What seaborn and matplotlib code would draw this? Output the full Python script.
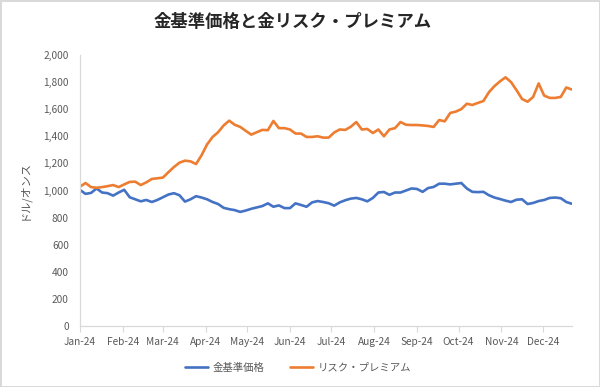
import matplotlib
matplotlib.use("Agg")
import matplotlib.pyplot as plt
import seaborn as sns
import pandas as pd
from matplotlib.lines import Line2D

# ---- data ----
dates = pd.date_range("2024-01-01", periods=90, freq="4D")

gold_base = [1004, 975, 982, 1015, 985, 980, 962, 985, 1005, 950,
             935, 920, 930, 915, 930, 950, 970, 980, 965, 918,
             935, 958, 948, 935, 915, 900, 872, 862, 855, 842,
             852, 865, 875, 885, 905, 880, 890, 870, 870, 905,
             893, 880, 912, 922, 915, 906, 888, 912, 928, 940,
             945, 935, 920, 945, 985, 989, 968, 985, 985, 1000,
             1015, 1011, 990, 1018, 1026, 1050, 1050, 1045, 1050, 1055,
             1015, 990, 988, 990, 965, 948, 937, 925, 915, 932,
             935, 900, 908, 922, 930, 945, 948, 943, 915, 902]

risk_premium = [1028, 1055, 1025, 1020, 1025, 1032, 1040, 1025, 1045, 1063,
                1065, 1040, 1060, 1085, 1090, 1095, 1135, 1173, 1205, 1220,
                1215, 1195, 1260, 1340, 1395, 1430, 1480, 1515, 1485, 1469,
                1440, 1412, 1430, 1447, 1445, 1513, 1460, 1460, 1450, 1420,
                1420, 1395, 1395, 1400, 1390, 1390, 1428, 1450, 1447, 1470,
                1505, 1450, 1454, 1424, 1450, 1400, 1450, 1460, 1505, 1485,
                1483, 1483, 1480, 1476, 1469, 1520, 1510, 1572, 1582, 1600,
                1640, 1631, 1646, 1660, 1725, 1770, 1805, 1835, 1800, 1740,
                1675, 1655, 1690, 1790, 1700, 1683, 1683, 1690, 1760, 1745]

series_names = ["金基準価格", "リスク・プレミアム"]
colors = ["#4472C4", "#ED7D31"]
yticks = [0, 200, 400, 600, 800, 1000, 1200, 1400, 1600, 1800, 2000]
month_ticks = pd.date_range("2024-01-01", periods=12, freq="MS")

df = pd.DataFrame({
    "date": list(dates) * 2,
    "value": gold_base + risk_premium,
    "series": [series_names[0]] * len(dates) + [series_names[1]] * len(dates),
})

# ---- style ----
sns.set_theme(style="white")
plt.rcParams["font.family"] = ["Noto Sans CJK JP", "DejaVu Sans"]
text_color = "#595959"

fig = plt.figure(figsize=(6.0, 3.87), dpi=100)
fig.patch.set_facecolor("white")
fig.patch.set_edgecolor("#D9D9D9")
fig.patch.set_linewidth(1.0)
ax = fig.add_axes([0.1333, 0.1576, 0.8197, 0.7004])

sns.lineplot(data=df, x="date", y="value", hue="series", palette=colors,
             hue_order=series_names, linewidth=1.9, ax=ax, legend=False)

ax.set_ylim(0, 2000)
ax.set_xlim(pd.Timestamp("2024-01-01"), pd.Timestamp("2024-12-22"))
ax.set_yticks(yticks)
ax.set_yticklabels([f"{v:,}" for v in yticks], fontsize=7.3, color=text_color)
ax.set_xticks(month_ticks)
ax.set_xticklabels([d.strftime("%b-%y") for d in month_ticks], fontsize=7.3,
                   color=text_color)
ax.tick_params(axis="y", length=0, pad=8)
ax.tick_params(axis="x", length=4, width=0.8, color="#D9D9D9", direction="out",
               pad=4, bottom=True)

for s in ["top", "right"]:
    ax.spines[s].set_visible(False)
for s in ["left", "bottom"]:
    ax.spines[s].set_color("#D9D9D9")
    ax.spines[s].set_linewidth(0.9)

ax.set_xlabel("")
ax.set_ylabel("ドル/オンス", fontsize=8, color=text_color, labelpad=10)

fig.text(0.487, 0.942, "金基準価格と金リスク・プレミアム", ha="center", va="center",
         fontsize=12.5, fontweight="bold", color="#262626")

handles = [Line2D([0], [0], color=c, lw=1.9) for c in colors]
fig.legend(handles, series_names, loc="center", bbox_to_anchor=(0.497, 0.05),
           ncol=2, frameon=False, fontsize=7.5, handlelength=2.2,
           columnspacing=2.5, handletextpad=0.4, labelcolor=text_color)

fig.savefig("out.png", dpi=100, facecolor="white", edgecolor=fig.get_edgecolor())
